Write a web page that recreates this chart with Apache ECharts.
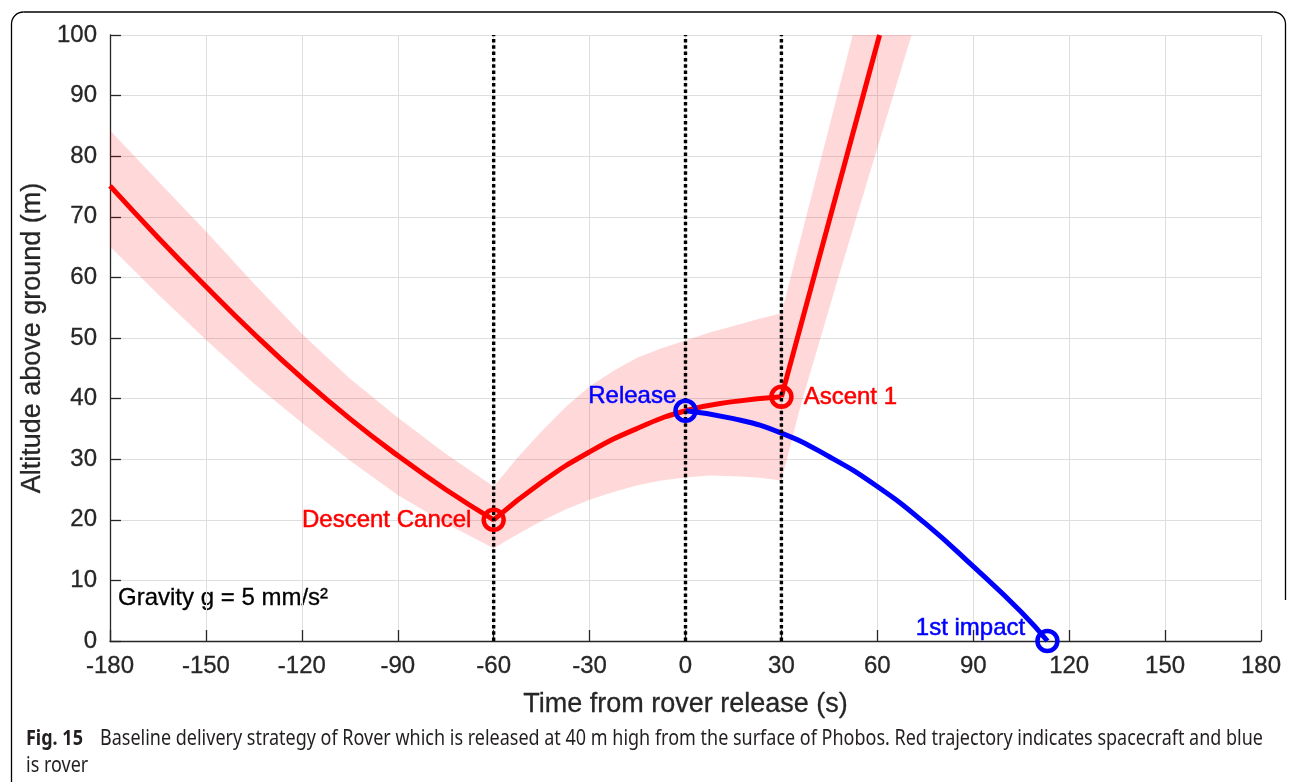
<!DOCTYPE html>
<html><head><meta charset="utf-8">
<script src="https://cdn.jsdelivr.net/npm/echarts@6/dist/echarts.min.js"></script>
<style>html,body{margin:0;padding:0;background:#fff}#c{width:1296px;height:782px}</style>
</head><body><div id="c"></div>
<script>
// ---- data ----
const xTicks = [-180,-150,-120,-90,-60,-30,0,30,60,90,120,150,180];
const yTicks = [0,10,20,30,40,50,60,70,80,90,100];

const descentT   = [-180,-165,-150,-135,-120,-105,-90,-75,-60];
const descentAlt = [75.1,66.6,58.5,50.7,43.4,36.7,30.6,25.0,20.0];
const coastT     = [-60,-45,-30,-15,0,15,30];
const coastAlt   = [20.0,26.2,31.2,35.1,38.0,39.5,40.3];
const ascentT    = [30,60.7];
const ascentAlt  = [40.3,100];

const roverT   = [0,15,30,45,60,75,90,105,113.2];
const roverAlt = [38.0,36.7,34.3,30.4,25.5,19.4,12.3,4.8,0];

const bandUpperT   = [-180,-165,-150,-135,-120,-105,-90,-75,-60,-52.5,-45,-37.5,-30,-22.5,-15,-7.5,0,7.5,15,22.5,30,52.3,70.7];
const bandUpperAlt = [84.3,75.9,67.6,59.0,50.7,43.3,36.9,30.9,25.5,30.3,34.6,38.6,42.0,44.6,46.8,48.3,49.6,50.9,52.0,53.1,54.1,100,100];
const bandLowerT   = [-180,-165,-150,-135,-120,-105,-90,-75,-60,-52.5,-45,-37.5,-30,-22.5,-15,-7.5,0,7.5,15,22.5,30,36.2,47.6,59.8,70.7];
const bandLowerAlt = [65.1,57.2,49.7,42.5,36.0,29.8,24.1,19.4,15.3,17.6,19.8,21.7,23.3,24.6,25.7,26.5,27.0,27.3,27.2,27.0,26.5,39.2,59.6,81.0,100];

const eventT = [-60,0,30];

const redMarkT     = [-60,30];
const redMarkAlt   = [20.0,40.3];
const redMarkLabel = ['Descent Cancel','Ascent 1'];
const blueMarkT     = [0,113.2];
const blueMarkAlt   = [38.0,0];
const blueMarkLabel = ['Release','1st impact'];

const gravityText = 'Gravity g = 5 mm/s\u00B2';
const xTitle = 'Time from rover release (s)';
const yTitle = 'Altitude above ground (m)';
const capBold = 'Fig. 15';
const capLine1 = 'Baseline delivery strategy of Rover which is released at 40 m high from the surface of Phobos. Red trajectory indicates spacecraft and blue';
const capLine2 = 'is rover';

// ---- build ----
const FONT = '"Liberation Sans", Arial, sans-serif';
const CAPFONT = '"Noto Sans", "Open Sans", sans-serif';
const zip = (a,b) => a.map((v,i)=>[v,b[i]]);

const polyPts = zip(bandUpperT,bandUpperAlt).concat(zip(bandLowerT,bandLowerAlt).reverse());

const mctx = document.createElement('canvas').getContext('2d');
mctx.font = '22px "Noto Sans"';
const capScale = 1163 / mctx.measureText(capLine1).width;

const chart = echarts.init(document.getElementById('c'), null, {renderer:'canvas'});

const markerLabelCfg = [
  {position:'left', distance:10, offset:[0,1]},
  {position:'right', distance:10, offset:[0,1]}
];
const blueLabelCfg = [
  {position:'left', distance:-3, offset:[0,-14]},
  {position:'left', distance:10, offset:[0,-13]}
];
const lbl = (c) => ({show:true, formatter:'{b}', color:c, fontSize:24, fontFamily:FONT, textBorderColor:c, textBorderWidth:0.5});

const series = [
  {
    type:'custom', silent:true, z:1,
    data: polyPts,
    renderItem: function(params, api){
      if (params.dataIndex !== 0) return null;
      const pts = polyPts.map(p => api.coord(p));
      return {type:'polygon', shape:{points:pts}, style:{fill:'rgba(255,0,0,0.15)'}};
    }
  },
  {type:'line', data: zip(descentT,descentAlt), smooth:true, showSymbol:false, lineStyle:{color:'#ff0000', width:5}, z:3},
  {type:'line', data: zip(coastT,coastAlt), smooth:true, showSymbol:false, lineStyle:{color:'#ff0000', width:5}, z:3},
  {type:'line', data: zip(ascentT,ascentAlt), showSymbol:false, lineStyle:{color:'#ff0000', width:5}, z:3},
  {type:'line', data: zip(roverT,roverAlt), smooth:true, showSymbol:false, clip:false, lineStyle:{color:'#0000ff', width:5}, z:3}
];
eventT.forEach(t => series.push({
  type:'line', data:[[t,yTicks[0]],[t,yTicks[yTicks.length-1]]], showSymbol:false, z:4,
  lineStyle:{color:'#000', width:3.4, type:[3.5,2.8], cap:'butt'}
}));
series.push({
  type:'scatter', clip:false, z:5, symbol:'circle', symbolSize:20,
  itemStyle:{color:'rgba(0,0,0,0)', borderColor:'#ff0000', borderWidth:4.5, opacity:1},
  data: redMarkT.map((t,i)=>({value:[t,redMarkAlt[i]], name:redMarkLabel[i],
    label:Object.assign(lbl('#ff0000'), markerLabelCfg[i])}))
});
series.push({
  type:'scatter', clip:false, z:5, symbol:'circle', symbolSize:20,
  itemStyle:{color:'rgba(0,0,0,0)', borderColor:'#0000ff', borderWidth:4.5, opacity:1},
  data: blueMarkT.map((t,i)=>({value:[t,blueMarkAlt[i]], name:blueMarkLabel[i],
    label:Object.assign(lbl('#0000ff'), blueLabelCfg[i])}))
});

const axisCommon = {
  type:'value',
  axisLine:{show:true, onZero:false, lineStyle:{color:'#262626', width:1.3}},
  axisTick:{show:true, inside:true, length:11, lineStyle:{color:'#262626', width:1.3}},
  axisLabel:{color:'#262626', fontSize:24, fontFamily:FONT, textBorderColor:'#262626', textBorderWidth:0.3},
  splitLine:{show:true, lineStyle:{color:'#dedede', width:1}},
  nameTextStyle:{color:'#262626', fontSize:27, fontFamily:FONT, textBorderColor:'#262626', textBorderWidth:0.3},
  nameLocation:'middle'
};

chart.setOption({
  animation:false,
  backgroundColor:'#fff',
  grid:{left:110, right:35, top:35, bottom:141, containLabel:false},
  xAxis: Object.assign({}, axisCommon, {
    min:xTicks[0], max:xTicks[xTicks.length-1], interval:xTicks[1]-xTicks[0],
    name:xTitle, nameGap:50,
    axisLabel:Object.assign({}, axisCommon.axisLabel, {margin:13})
  }),
  yAxis: Object.assign({}, axisCommon, {
    min:yTicks[0], max:yTicks[yTicks.length-1], interval:yTicks[1]-yTicks[0],
    name:yTitle, nameGap:58,
    axisLabel:Object.assign({}, axisCommon.axisLabel, {margin:13})
  }),
  series: series,
  graphic: [
    {type:'polyline', silent:true, shape:{points:[[11.5,790],[11.5,24]]}, style:{stroke:'#000', lineWidth:1.3, fill:null}},
    {type:'arc', silent:true, shape:{cx:23.5, cy:24, r:12, startAngle:Math.PI, endAngle:Math.PI*1.5}, style:{stroke:'#000', lineWidth:1.3, fill:null}},
    {type:'polyline', silent:true, shape:{points:[[23.5,12],[1273.5,12]]}, style:{stroke:'#000', lineWidth:1.3, fill:null}},
    {type:'arc', silent:true, shape:{cx:1273.5, cy:24, r:12, startAngle:Math.PI*1.5, endAngle:Math.PI*2}, style:{stroke:'#000', lineWidth:1.3, fill:null}},
    {type:'polyline', silent:true, shape:{points:[[1285.5,24],[1285.5,600]]}, style:{stroke:'#000', lineWidth:1.3, fill:null}},
    {type:'text', silent:true, x:118, y:598, style:{text:gravityText, fill:'#000', font:'24px ' + FONT, textVerticalAlign:'middle', stroke:'#000', lineWidth:0.3}},
    {type:'text', silent:true, x:26, y:739, style:{text:capBold, fill:'#231f20', font:'bold 22px ' + CAPFONT, textVerticalAlign:'middle'}, scaleX:capScale},
    {type:'text', silent:true, x:100, y:739, style:{text:capLine1, fill:'#231f20', font:'22px ' + CAPFONT, textVerticalAlign:'middle'}, scaleX:capScale},
    {type:'text', silent:true, x:26, y:766, style:{text:capLine2, fill:'#231f20', font:'22px ' + CAPFONT, textVerticalAlign:'middle'}, scaleX:capScale}
  ]
});
</script>
</body></html>
